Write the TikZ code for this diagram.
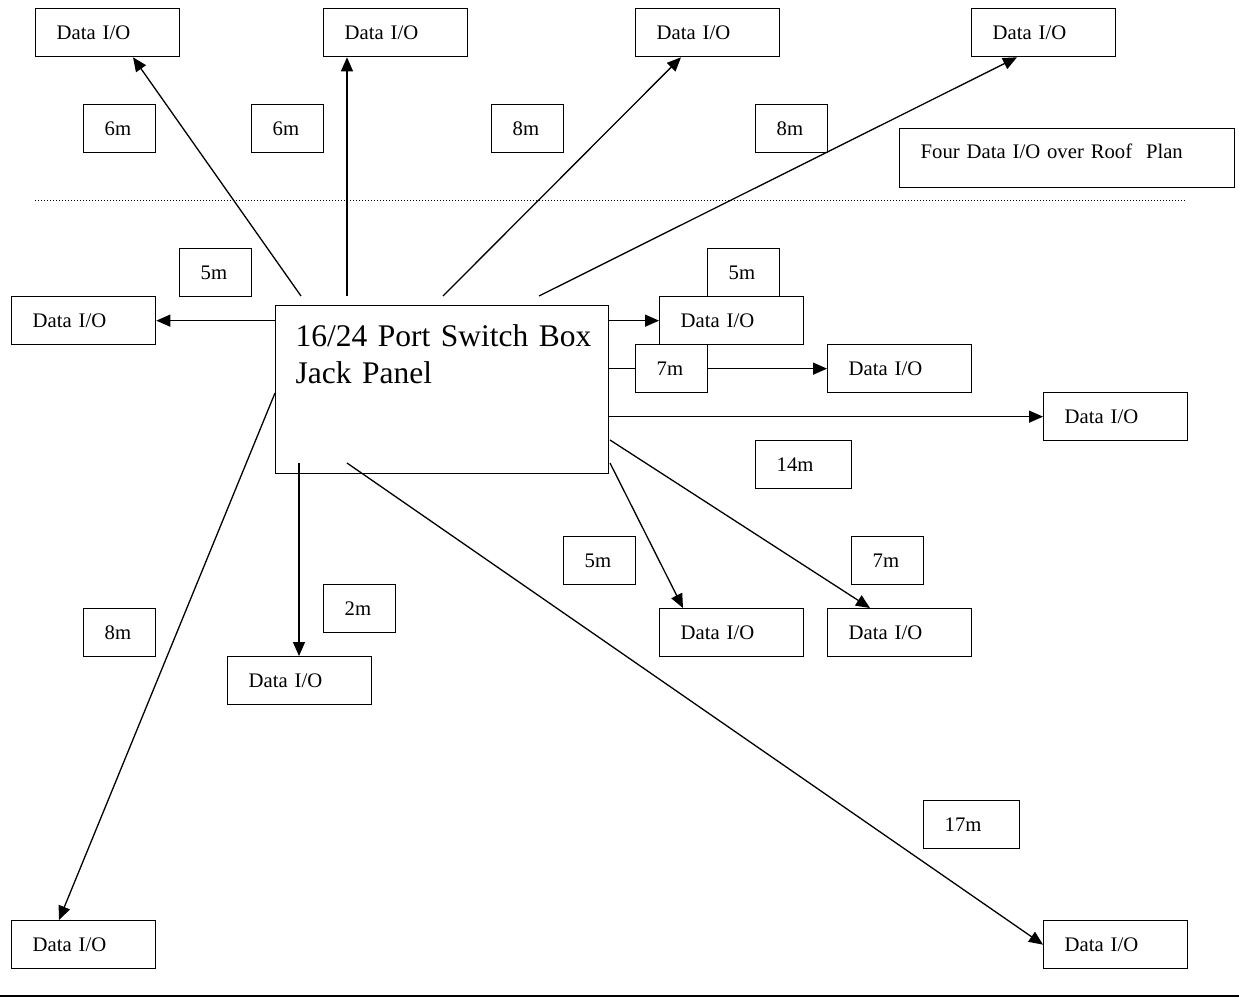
\documentclass[tikz,border=0pt]{standalone}
\usepackage{fontspec}
\setmainfont{Liberation Serif}[WordSpace=0.8]
\usetikzlibrary{arrows.meta}
\begin{document}
\begin{tikzpicture}[x=1pt,y=-1pt,
  box/.style={draw, line width=1.3pt, anchor=north west, inner xsep=21pt, inner ysep=0pt,
    align=left, text height=31pt, text depth=17pt, font=\fontsize{20.7}{25}\selectfont},
  dio/.style={box, text width=102pt},
  len/.style={box, text width=30pt},
  lenw/.style={box, text width=54pt},
  ln/.style={line width=1.3pt},
  arr/.style={line width=1.3pt, -{Triangle[length=14pt,width=12pt]}},
  sep/.style={line width=1pt, dash pattern=on 1pt off 2pt}]
\useasboundingbox (0,0) rectangle (1239,997);

% roof level
\node[dio] (a1) at (35,8) {Data I/O};
\node[dio] (a2) at (323,8) {Data I/O};
\node[dio] (a3) at (635,8) {Data I/O};
\node[dio] (a4) at (971,8) {Data I/O};
\node[len] (m1) at (83,104) {6m};
\node[len] (m2) at (251,104) {6m};
\node[len] (m3) at (491,104) {8m};
\node[len] (m4) at (755,104) {8m};
\node[box, text width=293pt, text height=30pt, text depth=29pt] (note) at (899,128) {\mbox{Four Data I/O over Roof\ \ Plan}};

\coordinate (d1) at (35,200);
\coordinate (d2) at (1185,200);
\draw[sep] (d1) -- (d2);

% switch
\node[box, inner xsep=20pt, text width=293pt, text height=41pt, text depth=127pt,
  font=\fontsize{31.5}{37}\selectfont] (sw) at (275,305) {\mbox{16/24 Port Switch Box}\\Jack Panel};

\node[len] (m5) at (179,248) {5m};
\node[dio] (l1) at (11,296) {Data I/O};
\node[len] (m6) at (707,248) {5m};
\node[dio] (r1) at (659,296) {Data I/O};
\node[len] (m7) at (635,344) {7m};
\node[dio] (r2) at (827,344) {Data I/O};
\node[dio] (r3) at (1043,392) {Data I/O};
\node[lenw] (m8) at (755,440) {14m};
\node[len] (m9) at (563,536) {5m};
\node[len] (m10) at (851,536) {7m};
\node[dio] (r4) at (659,608) {Data I/O};
\node[dio] (r5) at (827,608) {Data I/O};
\node[len] (m11) at (323,584) {2m};
\node[dio] (b1) at (227,656) {Data I/O};
\node[len] (m12) at (83,608) {8m};
\node[lenw] (m13) at (923,800) {17m};
\node[dio] (bl) at (11,920) {Data I/O};
\node[dio] (br) at (1043,920) {Data I/O};

% connector start points
\coordinate (s1) at (301,296);
\coordinate (s2) at (347,296);
\coordinate (s3) at (443,296);
\coordinate (s4) at (539,296);
\coordinate (s5) at (610,440);
\coordinate (s6) at (610,463);
\coordinate (s7) at (299,463);
\coordinate (s8) at (347,463);
\coordinate (s9) at (275,393);

\draw[arr] (s1) -- ([xshift=98pt]a1.south west);
\draw[arr] (s2) -- (s2 |- a2.south);
\draw[arr] (s3) -- ([xshift=46pt]a3.south west);
\draw[arr] (s4) -- ([xshift=46pt]a4.south west);
\draw[arr] (sw.west |- l1.east) -- (l1.east);
\draw[arr] (sw.east |- r1.west) -- (r1.west);
\draw[ln] (sw.east |- m7.west) -- (m7.west);
\draw[arr] (m7.east) -- (r2.west);
\draw[arr] (sw.east |- r3.west) -- (r3.west);
\draw[arr] (s5) -- ([xshift=43pt]r5.north west);
\draw[arr] (s6) -- ([xshift=24pt]r4.north west);
\draw[arr] (s7) -- (s7 |- b1.north);
\draw[arr] (s8) -- (br.west);
\draw[arr] (s9) -- ([xshift=48pt]bl.north west);

\coordinate (e1) at (0,996);
\coordinate (e2) at (1239,996);
\draw[ln] (e1) -- (e2);
\end{tikzpicture}
\end{document}
